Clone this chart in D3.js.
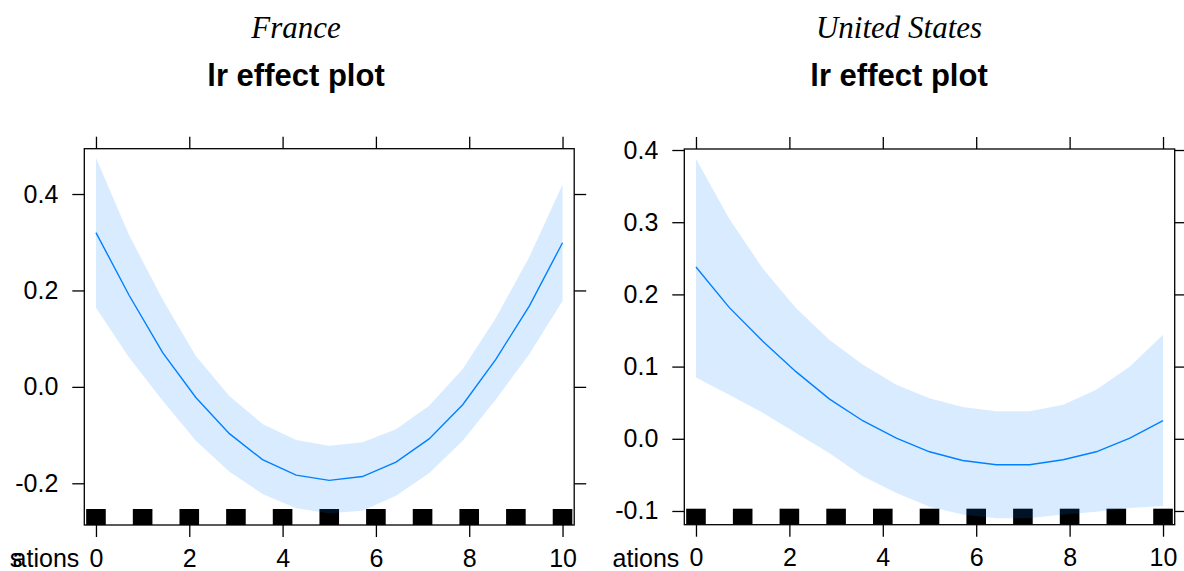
<!DOCTYPE html>
<html>
<head>
<meta charset="utf-8">
<script src="https://cdn.jsdelivr.net/npm/d3@7"></script>
<style>
  html, body { margin: 0; padding: 0; background: #fff; }
  svg { display: block; }
</style>
</head>
<body>
<svg id="chart" width="1184" height="571"></svg>
<script>
// ---- data ----
const xGrid = [0, 0.71, 1.43, 2.14, 2.86, 3.57, 4.29, 5, 5.71, 6.43, 7.14, 7.86, 8.57, 9.29, 10];

const franceFit   = [0.320, 0.190, 0.071, -0.022, -0.097, -0.151, -0.183, -0.194, -0.186, -0.156, -0.108, -0.037, 0.057, 0.168, 0.299];
const franceUpper = [0.475, 0.315, 0.181, 0.064, -0.019, -0.077, -0.110, -0.122, -0.115, -0.088, -0.039, 0.037, 0.143, 0.270, 0.420];
const franceLower = [0.164, 0.061, -0.029, -0.112, -0.176, -0.222, -0.252, -0.262, -0.257, -0.226, -0.179, -0.112, -0.026, 0.068, 0.178];

const usFit   = [0.238, 0.182, 0.135, 0.093, 0.055, 0.025, 0.001, -0.018, -0.030, -0.036, -0.036, -0.029, -0.018, 0.001, 0.025];
const usUpper = [0.388, 0.305, 0.236, 0.181, 0.137, 0.103, 0.075, 0.056, 0.044, 0.038, 0.038, 0.047, 0.068, 0.100, 0.144];
const usLower = [0.085, 0.061, 0.036, 0.008, -0.020, -0.052, -0.075, -0.094, -0.105, -0.110, -0.110, -0.105, -0.101, -0.096, -0.093];

const rugValues = [0, 1, 2, 3, 4, 5, 6, 7, 8, 9, 10];

const xTicks = [0, 2, 4, 6, 8, 10];
const franceYTicks = [-0.2, 0.0, 0.2, 0.4];
const usYTicks = [-0.1, 0.0, 0.1, 0.2, 0.3, 0.4];

const panelNames = ["France", "United States"];
const plotTitle = "lr effect plot";
const xLabelTail = "ations";

// ---- layout ----
const panels = [
  { name: panelNames[0], fit: franceFit, upper: franceUpper, lower: franceLower, yTicks: franceYTicks,
    box: { l: 84.3, r: 574.2, t: 148.7, b: 525 }, xDom: [-0.25, 10.25], yDom: [-0.2865, 0.494], cx: 296, garble: true },
  { name: panelNames[1], fit: usFit, upper: usUpper, lower: usLower, yTicks: usYTicks,
    box: { l: 684.3, r: 1174.7, t: 149, b: 524.7 }, xDom: [-0.25, 10.25], yDom: [-0.119, 0.4014], cx: 899, garble: false }
];

const svg = d3.select("#chart");
const SANS = "'Liberation Sans', Arial, Helvetica, sans-serif";
const SERIF = "'Liberation Serif', 'Times New Roman', serif";
const lineColor = "#0080ff";
const tickLen = 12;
const fmt = d => d.toFixed(1);

panels.forEach((p, i) => {
  const b = p.box;
  const x = d3.scaleLinear().domain(p.xDom).range([b.l, b.r]);
  const y = d3.scaleLinear().domain(p.yDom).range([b.b, b.t]);
  const g = svg.append("g");

  // titles
  g.append("text").attr("x", p.cx).attr("y", 38).attr("text-anchor", "middle")
    .style("font-family", SERIF).style("font-style", "italic").style("font-size", "31px")
    .text(p.name);
  g.append("text").attr("x", p.cx).attr("y", 86).attr("text-anchor", "middle")
    .style("font-family", SANS).style("font-weight", "bold").style("font-size", "31px")
    .text(plotTitle);

  const clipId = "clip" + i;
  svg.append("clipPath").attr("id", clipId).append("rect")
    .attr("x", b.l).attr("y", b.t).attr("width", b.r - b.l).attr("height", b.b - b.t);
  const plot = g.append("g").attr("clip-path", `url(#${clipId})`);

  // rug
  const rugHalf = 9.8, rugH = 16;
  plot.selectAll("rect.rug").data(rugValues).join("rect").attr("class", "rug")
    .attr("x", d => x(d) - rugHalf).attr("width", rugHalf * 2)
    .attr("y", b.b - rugH).attr("height", rugH).attr("fill", "#000");

  const pts = xGrid.map((xv, k) => ({ x: xv, fit: p.fit[k], lo: p.lower[k], hi: p.upper[k] }));

  // confidence band
  plot.append("path").datum(pts)
    .attr("d", d3.area().x(d => x(d.x)).y0(d => y(d.lo)).y1(d => y(d.hi)))
    .attr("fill", lineColor).attr("fill-opacity", 0.15);

  // fitted line
  plot.append("path").datum(pts)
    .attr("d", d3.line().x(d => x(d.x)).y(d => y(d.fit)))
    .attr("fill", "none").attr("stroke", lineColor).attr("stroke-width", 1.4);

  // axes
  const styleAxis = sel => {
    sel.select(".domain").remove();
    sel.selectAll("line").attr("stroke", "#000").attr("stroke-width", 1.3);
    sel.selectAll("text").style("font-family", SANS).style("font-size", "25px").attr("fill", "#000");
  };
  g.append("g").attr("transform", `translate(0,${b.b})`)
    .call(d3.axisBottom(x).tickValues(xTicks).tickSize(tickLen).tickPadding(12).tickFormat(d3.format("d")))
    .call(styleAxis);
  g.append("g").attr("transform", `translate(0,${b.t})`)
    .call(d3.axisTop(x).tickValues(xTicks).tickSize(tickLen).tickFormat(""))
    .call(styleAxis);
  g.append("g").attr("transform", `translate(${b.l},0)`)
    .call(d3.axisLeft(y).tickValues(p.yTicks).tickSize(tickLen).tickPadding(14).tickFormat(fmt))
    .call(styleAxis);
  g.append("g").attr("transform", `translate(${b.r},0)`)
    .call(d3.axisRight(y).tickValues(p.yTicks).tickSize(tickLen).tickFormat(""))
    .call(styleAxis);

  // box
  g.append("rect").attr("x", b.l).attr("y", b.t).attr("width", b.r - b.l).attr("height", b.b - b.t)
    .attr("fill", "none").attr("stroke", "#000").attr("stroke-width", 1.3);

  // clipped x-axis label
  g.append("text").attr("x", b.l - 5).attr("y", 567).attr("text-anchor", "end")
    .style("font-family", SANS).style("font-size", "25px").text(xLabelTail);
  if (p.garble) {
    g.append("text").attr("x", b.l - 5 - 69.5).attr("y", 567).attr("text-anchor", "start")
      .style("font-family", SANS).style("font-size", "25px").text("s");
  }
});
</script>
</body>
</html>
